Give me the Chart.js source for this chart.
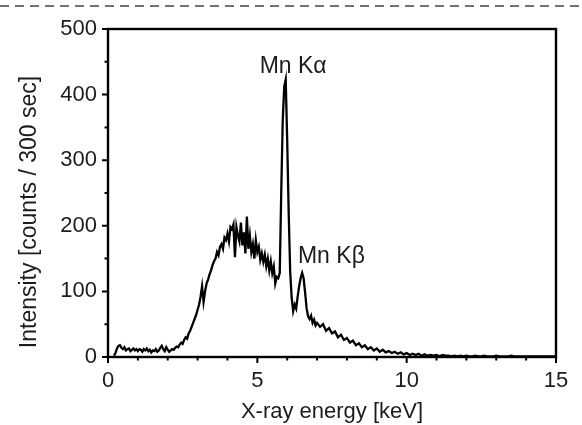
<!DOCTYPE html>
<html><head><meta charset="utf-8">
<script src="https://cdn.jsdelivr.net/npm/chart.js@4"></script>
<style>html,body{margin:0;padding:0;background:#fff}#wrap{width:582px;height:425px;position:relative}</style>
</head><body><div id="wrap"><canvas id="c"></canvas></div>
<script>
const energyKeV = [
 0.2,0.25,0.3,0.35,0.4,0.45,0.5,0.55,0.6,0.65,0.7,0.75,0.8,0.85,0.9,0.95,
 1,1.05,1.1,1.15,1.2,1.25,1.3,1.35,1.4,1.45,1.5,1.55,1.6,1.65,1.7,1.75,1.8,1.85,1.9,1.95,
 2,2.05,2.1,2.15,2.2,2.25,2.3,2.35,2.4,2.45,2.5,2.55,2.6,2.65,2.7,2.75,2.8,2.85,2.9,2.95,
 3,3.05,3.1,3.15,3.2,3.25,3.3,3.35,3.4,3.45,3.5,3.55,3.6,3.65,3.7,3.75,3.8,3.85,3.9,3.95,
 4,4.05,4.1,4.15,4.2,4.25,4.3,4.35,4.4,4.45,4.5,4.55,4.6,4.65,4.7,4.75,4.8,4.85,4.9,4.95,
 5,5.05,5.1,5.15,5.2,5.25,5.3,5.35,5.4,5.45,5.5,5.55,5.6,5.65,5.7,5.75,5.8,5.85,5.9,5.95,
 6,6.05,6.1,6.15,6.2,6.25,6.3,6.35,6.4,6.45,6.5,6.55,6.6,6.65,6.7,6.75,6.8,6.85,6.9,6.95,
 7,7.1,7.2,7.3,7.4,7.5,7.6,7.7,7.8,7.9,
 8,8.1,8.2,8.3,8.4,8.5,8.6,8.7,8.8,8.9,
 9,9.1,9.2,9.3,9.4,9.5,9.6,9.7,9.8,9.9,
 10,10.1,10.2,10.3,10.4,10.5,10.6,10.7,10.8,10.9,
 11,11.1,11.2,11.3,11.4,11.5,11.6,11.7,11.8,11.9,
 12,12.1,12.2,12.3,12.4,12.5,12.6,12.7,12.8,12.9,
 13,13.1,13.2,13.3,13.4,13.5,13.6,13.7,13.8,13.9,
 14,14.1,14.2,14.3,14.4,14.5,14.6,14.7,14.8,14.9,15
];
const counts = [
 2,6,13,17,18,14,12,15,10,12,13,9,11,13,10,12,
 9,12,11,8,12,10,13,9,11,7,10,9,12,8,10,14,17,12,9,15,
 11,8,10,12,11,14,16,15,19,22,20,26,30,28,36,40,46,52,58,64,
 72,80,92,108,84,100,112,118,126,132,140,146,150,160,155,168,172,165,182,178,
 188,176,198,195,202,152,198,185,176,205,170,190,158,214,165,185,160,172,150,178,
 160,168,148,158,145,156,138,150,132,146,128,138,112,122,120,128,250,360,412,423,
 330,220,130,90,70,80,74,92,108,120,128,120,98,74,62,58,63,52,57,48,
 52,46,50,40,44,36,39,30,34,26,
 29,22,25,18,21,15,18,12,15,10,
 13,8,11,7,9,6,8,5,7,4,
 6,3,5,3,5,2,4,2,3,2,
 3,1,3,2,2,1,2,1,2,1,
 2,1,1,2,1,1,2,1,1,1,
 2,1,1,1,1,2,1,1,1,1,
 1,1,1,1,1,1,1,1,1,1,1
];
const xTickLabels = ['0','5','10','15'];
const yTickLabels = ['0','100','200','300','400','500'];
const xTitle = 'X-ray energy [keV]';
const yTitle = 'Intensity [counts / 300 sec]';
const peakLabels = ['Mn K\u03B1', 'Mn K\u03B2'];
const peakLabelEnergy = [6.2, 7.48];
const peakLabelCounts = [442, 153];

const FONT = '"Liberation Sans", Arial, Helvetica, sans-serif';
const INK = '#1c1c1c';

const decor = {
  id: 'decor',
  afterDraw(chart) {
    const {ctx, chartArea: a, scales: {x, y}} = chart;
    ctx.save();
    ctx.strokeStyle = '#444';
    ctx.lineWidth = 1.5;
    ctx.setLineDash([9, 6]);
    ctx.beginPath(); ctx.moveTo(0, 6); ctx.lineTo(chart.width, 6); ctx.stroke();
    ctx.setLineDash([]);
    ctx.strokeStyle = '#000';
    ctx.lineWidth = 2.4;
    ctx.strokeRect(a.left, a.top, a.right - a.left, a.bottom - a.top);
    ctx.lineWidth = 2;
    ctx.beginPath();
    for (let v = x.min; v <= x.max + 1e-9; v += 1) {
      const px = x.getPixelForValue(v);
      const len = (Math.round(v) % 5 === 0) ? 6 : 3.5;
      ctx.moveTo(px, a.bottom); ctx.lineTo(px, a.bottom + len);
    }
    for (let v = y.min; v <= y.max + 1e-9; v += 50) {
      const py = y.getPixelForValue(v);
      const len = (Math.round(v) % 100 === 0) ? 6 : 3.5;
      ctx.moveTo(a.left, py); ctx.lineTo(a.left - len, py);
    }
    ctx.stroke();
    ctx.fillStyle = INK;
    ctx.textAlign = 'center';
    ctx.textBaseline = 'middle';
    ctx.font = '23px ' + FONT;
    peakLabels.forEach((t, i) => {
      ctx.fillText(t, x.getPixelForValue(peakLabelEnergy[i]), y.getPixelForValue(peakLabelCounts[i]));
    });
    ctx.font = '23px ' + FONT;
    ctx.translate(30, 212);
    ctx.rotate(-Math.PI / 2);
    ctx.fillText(yTitle, 0, 0);
    ctx.restore();
  }
};

new Chart(document.getElementById('c'), {
  type: 'line',
  data: {
    datasets: [{
      data: energyKeV.map((e, i) => ({x: e, y: counts[i]})),
      borderColor: '#000',
      borderWidth: 2.3,
      pointRadius: 0,
      tension: 0,
      fill: false
    }]
  },
  options: {
    responsive: true,
    maintainAspectRatio: false,
    animation: false,
    events: [],
    layout: {padding: {top: 29, right: 26, bottom: 0, left: 0}},
    plugins: {legend: {display: false}, tooltip: {enabled: false}},
    scales: {
      x: {
        type: 'linear', min: 0, max: 15,
        grid: {display: false, drawTicks: false},
        border: {display: false},
        afterFit: (s) => { s.height = 68; },
        ticks: {stepSize: 5, padding: 11, color: INK, font: {family: FONT, size: 22},
          callback: (v) => xTickLabels[Math.round(v / 5)]},
        title: {display: true, text: xTitle, color: INK, font: {family: FONT, size: 22}, padding: {top: 4, bottom: 0}}
      },
      y: {
        type: 'linear', min: 0, max: 500,
        grid: {display: false, drawTicks: false},
        border: {display: false},
        afterFit: (s) => { s.width = 108; },
        ticks: {stepSize: 100, padding: 11, color: INK, font: {family: FONT, size: 22},
          callback: (v) => yTickLabels[Math.round(v / 100)]},
        title: {display: false, text: yTitle}
      }
    }
  },
  plugins: [decor]
});
</script></body></html>
